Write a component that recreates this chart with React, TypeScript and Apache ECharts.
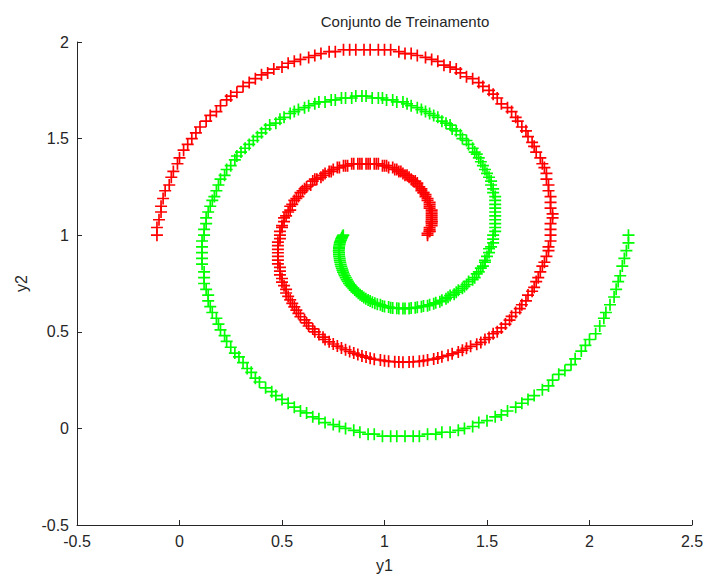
import React, { useEffect, useRef } from "react";
import * as echarts from "echarts";

// Class 1 (red) and class 2 (green) training samples, listed along each spiral arm.
const redSpiral: [number, number][] = [
  [-0.11,1.00],[-0.11,1.04],[-0.10,1.08],[-0.09,1.12],[-0.09,1.15],[-0.08,1.19],[-0.07,1.23],[-0.05,1.26],[-0.04,1.30],[-0.03,1.33],[-0.01,1.37],[0.00,1.40],[0.02,1.44],[0.04,1.47],[0.06,1.50],[0.08,1.53],[0.10,1.56],[0.13,1.59],[0.15,1.62],[0.18,1.64],[0.20,1.67],[0.23,1.70],[0.25,1.72],[0.28,1.74],[0.31,1.77],[0.34,1.79],[0.37,1.81],[0.40,1.83],[0.43,1.84],[0.46,1.86],[0.50,1.87],[0.53,1.89],[0.56,1.90],[0.59,1.91],[0.63,1.92],[0.66,1.93],[0.69,1.94],[0.73,1.95],[0.76,1.95],[0.80,1.96],[0.83,1.96],[0.86,1.96],[0.90,1.96],[0.93,1.96],[0.97,1.96],[1.00,1.96],
  [1.03,1.96],[1.07,1.95],[1.10,1.94],[1.13,1.94],[1.16,1.93],[1.20,1.92],[1.23,1.91],[1.26,1.90],[1.29,1.88],[1.32,1.87],[1.35,1.86],[1.37,1.84],[1.40,1.82],[1.43,1.81],[1.46,1.79],[1.48,1.77],[1.51,1.75],[1.53,1.73],[1.55,1.71],[1.57,1.68],[1.60,1.66],[1.62,1.64],[1.64,1.61],[1.65,1.59],[1.67,1.56],[1.69,1.54],[1.70,1.51],[1.72,1.48],[1.73,1.46],[1.74,1.43],[1.76,1.40],[1.77,1.37],[1.78,1.35],[1.79,1.32],[1.79,1.29],[1.80,1.26],[1.80,1.23],[1.81,1.20],[1.81,1.17],[1.81,1.14],[1.82,1.11],[1.82,1.09],[1.81,1.06],[1.81,1.03],[1.81,1.00],
  [1.81,0.97],[1.80,0.94],[1.80,0.92],[1.79,0.89],[1.78,0.86],[1.77,0.84],[1.76,0.81],[1.75,0.78],[1.74,0.76],[1.73,0.73],[1.72,0.71],[1.70,0.69],[1.69,0.66],[1.67,0.64],[1.66,0.62],[1.64,0.60],[1.62,0.58],[1.61,0.56],[1.59,0.54],[1.57,0.52],[1.55,0.50],[1.53,0.49],[1.51,0.47],[1.49,0.46],[1.47,0.445],[1.45,0.435],[1.42,0.425],[1.40,0.415],[1.38,0.405],[1.36,0.395],[1.33,0.386],[1.31,0.378],[1.28,0.371],[1.26,0.364],[1.24,0.359],[1.21,0.354],[1.19,0.35],[1.17,0.347],[1.14,0.345],[1.12,0.344],[1.09,0.343],[1.07,0.344],[1.05,0.345],[1.02,0.347],[1.00,0.35],
  [0.98,0.354],[0.95,0.358],[0.93,0.363],[0.91,0.369],[0.89,0.375],[0.87,0.382],[0.85,0.39],[0.83,0.398],[0.81,0.407],[0.79,0.416],[0.77,0.426],[0.75,0.437],[0.73,0.448],[0.71,0.46],[0.70,0.472],[0.68,0.486],[0.66,0.50],[0.65,0.515],[0.63,0.53],[0.62,0.546],[0.61,0.562],[0.59,0.578],[0.58,0.595],[0.57,0.612],[0.56,0.629],[0.55,0.647],[0.54,0.665],[0.53,0.683],[0.52,0.701],[0.52,0.72],[0.51,0.739],[0.50,0.757],[0.50,0.776],[0.49,0.795],[0.49,0.814],[0.49,0.833],[0.48,0.852],[0.48,0.871],[0.48,0.89],[0.48,0.909],[0.48,0.927],[0.48,0.946],[0.48,0.964],[0.49,0.982],[0.49,1.00],
  [0.49,1.02],[0.50,1.04],[0.50,1.05],[0.51,1.07],[0.51,1.09],[0.52,1.10],[0.53,1.12],[0.54,1.13],[0.54,1.15],[0.55,1.16],[0.56,1.18],[0.57,1.19],[0.58,1.20],[0.59,1.22],[0.60,1.23],[0.61,1.24],[0.62,1.25],[0.64,1.26],[0.65,1.28],[0.66,1.29],[0.67,1.29],[0.69,1.30],[0.70,1.31],[0.71,1.32],[0.73,1.33],[0.74,1.33],[0.75,1.34],[0.77,1.35],[0.78,1.35],[0.80,1.36],[0.81,1.36],[0.82,1.36],[0.84,1.37],[0.85,1.37],[0.87,1.37],[0.88,1.37],[0.89,1.37],[0.91,1.37],[0.92,1.37],[0.93,1.37],[0.95,1.37],[0.96,1.37],[0.97,1.37],[0.99,1.36],[1.00,1.36],
  [1.01,1.36],[1.02,1.35],[1.04,1.35],[1.05,1.34],[1.06,1.34],[1.07,1.33],[1.08,1.33],[1.09,1.32],[1.10,1.31],[1.11,1.31],[1.12,1.30],[1.13,1.29],[1.14,1.28],[1.15,1.28],[1.16,1.27],[1.16,1.26],[1.17,1.25],[1.18,1.24],[1.18,1.23],[1.19,1.22],[1.19,1.22],[1.20,1.21],[1.20,1.20],[1.21,1.19],[1.21,1.18],[1.22,1.17],[1.22,1.16],[1.22,1.15],[1.22,1.14],[1.23,1.13],[1.23,1.12],[1.23,1.11],[1.23,1.10],[1.23,1.09],[1.23,1.08],[1.23,1.07],[1.23,1.07],[1.23,1.06],[1.23,1.05],[1.22,1.04],[1.22,1.03],[1.22,1.02],[1.22,1.02],[1.21,1.01],[1.21,1.00],
];

const greenSpiral: [number, number][] = [
  [2.19,1.00],[2.19,0.96],[2.18,0.92],[2.17,0.88],[2.16,0.84],[2.15,0.79],[2.14,0.76],[2.13,0.72],[2.12,0.68],[2.10,0.64],[2.08,0.60],[2.07,0.57],[2.05,0.53],[2.03,0.49],[2.00,0.46],[1.98,0.43],[1.96,0.40],[1.93,0.36],[1.91,0.33],[1.88,0.30],[1.85,0.28],[1.82,0.25],[1.80,0.22],[1.77,0.20],[1.73,0.17],[1.70,0.15],[1.67,0.13],[1.64,0.11],[1.60,0.09],[1.57,0.07],[1.54,0.06],[1.50,0.04],[1.46,0.03],[1.43,0.01],[1.39,0.00],[1.36,-0.01],[1.32,-0.02],[1.28,-0.02],[1.25,-0.03],[1.21,-0.03],[1.17,-0.04],[1.14,-0.04],[1.10,-0.04],[1.06,-0.04],[1.03,-0.04],[0.99,-0.04],
  [0.95,-0.03],[0.92,-0.03],[0.88,-0.02],[0.85,-0.01],[0.81,0.00],[0.78,0.01],[0.75,0.02],[0.71,0.03],[0.68,0.05],[0.65,0.06],[0.62,0.08],[0.59,0.09],[0.56,0.11],[0.53,0.13],[0.50,0.15],[0.47,0.17],[0.45,0.19],[0.42,0.21],[0.39,0.24],[0.37,0.26],[0.35,0.29],[0.33,0.31],[0.31,0.34],[0.29,0.37],[0.27,0.39],[0.25,0.42],[0.23,0.45],[0.22,0.48],[0.20,0.51],[0.19,0.54],[0.18,0.57],[0.16,0.60],[0.15,0.63],[0.14,0.66],[0.14,0.69],[0.13,0.72],[0.12,0.75],[0.12,0.78],[0.12,0.81],[0.11,0.85],[0.11,0.88],[0.11,0.91],[0.11,0.94],[0.11,0.97],[0.12,1.00],
  [0.12,1.03],[0.13,1.06],[0.13,1.09],[0.14,1.12],[0.15,1.15],[0.16,1.18],[0.17,1.20],[0.18,1.23],[0.19,1.26],[0.20,1.29],[0.22,1.31],[0.23,1.34],[0.25,1.36],[0.27,1.39],[0.28,1.41],[0.30,1.43],[0.32,1.45],[0.34,1.47],[0.36,1.49],[0.38,1.51],[0.40,1.53],[0.42,1.55],[0.44,1.57],[0.47,1.58],[0.49,1.60],[0.51,1.61],[0.54,1.63],[0.56,1.64],[0.58,1.65],[0.61,1.66],[0.63,1.67],[0.66,1.68],[0.68,1.69],[0.71,1.69],[0.74,1.70],[0.76,1.70],[0.79,1.71],[0.81,1.71],[0.84,1.71],[0.86,1.72],[0.89,1.72],[0.91,1.72],[0.94,1.71],[0.97,1.71],[0.99,1.71],
  [1.01,1.70],[1.04,1.70],[1.06,1.69],[1.09,1.69],[1.11,1.68],[1.13,1.67],[1.16,1.66],[1.18,1.65],[1.20,1.64],[1.22,1.63],[1.24,1.62],[1.26,1.61],[1.28,1.59],[1.30,1.58],[1.32,1.57],[1.33,1.55],[1.35,1.54],[1.37,1.52],[1.38,1.50],[1.40,1.49],[1.41,1.47],[1.43,1.45],[1.44,1.43],[1.45,1.42],[1.46,1.40],[1.47,1.38],[1.48,1.36],[1.49,1.34],[1.50,1.32],[1.51,1.30],[1.52,1.28],[1.52,1.26],[1.53,1.24],[1.53,1.22],[1.54,1.20],[1.54,1.18],[1.54,1.16],[1.54,1.14],[1.54,1.12],[1.54,1.10],[1.54,1.08],[1.54,1.06],[1.54,1.04],[1.54,1.02],[1.53,1.00],
  [1.53,0.98],[1.53,0.96],[1.52,0.94],[1.51,0.93],[1.51,0.91],[1.50,0.89],[1.49,0.87],[1.49,0.86],[1.48,0.84],[1.47,0.83],[1.46,0.81],[1.45,0.80],[1.44,0.78],[1.43,0.77],[1.41,0.76],[1.40,0.745],[1.39,0.735],[1.38,0.725],[1.36,0.715],[1.35,0.705],[1.34,0.695],[1.32,0.688],[1.31,0.679],[1.30,0.671],[1.28,0.663],[1.27,0.656],[1.25,0.65],[1.24,0.645],[1.22,0.64],[1.21,0.635],[1.19,0.633],[1.18,0.63],[1.16,0.627],[1.15,0.624],[1.13,0.623],[1.12,0.621],[1.10,0.621],[1.09,0.62],[1.07,0.621],[1.06,0.622],[1.04,0.623],[1.03,0.625],[1.02,0.628],[1.00,0.631],[0.99,0.634],
  [0.98,0.64],[0.965,0.643],[0.953,0.648],[0.941,0.653],[0.93,0.659],[0.92,0.665],[0.909,0.671],[0.899,0.678],[0.89,0.685],[0.881,0.692],[0.872,0.70],[0.863,0.708],[0.855,0.716],[0.848,0.725],[0.84,0.733],[0.834,0.742],[0.827,0.751],[0.821,0.761],[0.816,0.77],[0.811,0.78],[0.806,0.79],[0.802,0.799],[0.798,0.809],[0.795,0.819],[0.792,0.829],[0.789,0.839],[0.786,0.849],[0.784,0.86],[0.782,0.87],[0.781,0.88],[0.779,0.89],[0.778,0.90],[0.778,0.909],[0.777,0.919],[0.778,0.929],[0.778,0.936],[0.779,0.944],[0.781,0.952],[0.782,0.96],[0.784,0.967],[0.787,0.974],[0.789,0.981],[0.792,0.987],[0.795,0.994],[0.799,1.00],
];

const xTicks = { min: -0.5, max: 2.5, step: 0.5 };
const yTicks = { min: -0.5, max: 2, step: 0.5 };

const TITLE = "Conjunto de Treinamento";
const X_NAME = "y1";
const Y_NAME = "y2";

// MATLAB-style "+" marker as a filled cross.
const PLUS = "path://M4.3,0H5.7V10H4.3Z M0,4.3H10V5.7H0Z";

const FONT = "'Liberation Sans', Arial, Helvetica, sans-serif";
const AXIS_COLOR = "#262626";

export default function App() {
  const ref = useRef<HTMLDivElement>(null);

  useEffect(() => {
    if (!ref.current) return;
    const chart = echarts.init(ref.current, undefined, { renderer: "svg" });

    const axisCommon = {
      type: "value" as const,
      nameLocation: "middle" as const,
      nameTextStyle: { fontFamily: FONT, fontSize: 16, color: AXIS_COLOR },
      axisLine: { show: true, onZero: false, lineStyle: { color: AXIS_COLOR, width: 1 } },
      axisTick: { show: true, inside: true, length: 5, lineStyle: { color: AXIS_COLOR, width: 1 } },
      axisLabel: { fontFamily: FONT, fontSize: 16, color: AXIS_COLOR, margin: 8 },
      splitLine: { show: false },
    };

    const markerSeries = (data: [number, number][], color: string) => ({
      type: "scatter" as const,
      data,
      symbol: PLUS,
      symbolSize: 12,
      itemStyle: { color, opacity: 1 },
      emphasis: { disabled: true },
    });

    chart.setOption({
      animation: false,
      backgroundColor: "#ffffff",
      grid: { left: 77, top: 42, width: 615, height: 483, containLabel: false },
      graphic: [
        {
          type: "text",
          x: 405,
          y: 21,
          style: {
            text: TITLE,
            fontFamily: FONT,
            fontSize: 15,
            fill: AXIS_COLOR,
            align: "center",
            verticalAlign: "middle",
          },
        },
      ],
      xAxis: {
        ...axisCommon,
        min: xTicks.min,
        max: xTicks.max,
        interval: xTicks.step,
        name: X_NAME,
        nameGap: 32,
      },
      yAxis: {
        ...axisCommon,
        min: yTicks.min,
        max: yTicks.max,
        interval: yTicks.step,
        name: Y_NAME,
        nameGap: 48,
      },
      series: [markerSeries(redSpiral, "#ff0000"), markerSeries(greenSpiral, "#00ff00")],
    });

    return () => chart.dispose();
  }, []);

  return (
    <div
      ref={ref}
      style={{ position: "fixed", left: 0, top: 0, width: 709, height: 583, background: "#fff" }}
    />
  );
}
